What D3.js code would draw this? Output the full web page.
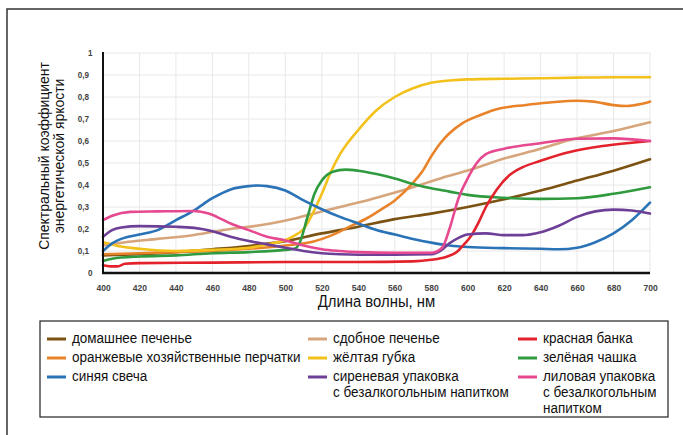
<!DOCTYPE html>
<html>
<head>
<meta charset="utf-8">
<script src="https://cdn.jsdelivr.net/npm/d3@7"></script>
<style>
  html, body { margin: 0; padding: 0; background: #fff; }
  svg { display: block; }
  text { font-family: "Liberation Sans", Arial, sans-serif; }
</style>
</head>
<body>
<svg id="chart" width="683" height="435"></svg>
<script>
// Spectral radiance factor samples: [wavelength nm, value]
const homeCookies = [[400,0.08],[420,0.085],[440,0.095],[460,0.108],[480,0.123],[500,0.145],[520,0.18],[540,0.21],[560,0.245],[580,0.27],[600,0.3],[620,0.335],[640,0.375],[660,0.42],[680,0.465],[700,0.517]];
const butterCookies = [[400,0.125],[414,0.142],[430,0.155],[450,0.173],[470,0.2],[487,0.218],[505,0.248],[520,0.28],[540,0.32],[552,0.347],[570,0.39],[585,0.43],[601,0.468],[620,0.52],[640,0.565],[656,0.605],[680,0.645],[700,0.685]];
const redCan = [[400,0.035],[404,0.03],[408,0.03],[412,0.042],[420,0.045],[460,0.047],[500,0.05],[540,0.05],[570,0.053],[580,0.06],[588,0.073],[594,0.095],[598,0.13],[602,0.17],[606,0.23],[610,0.3],[616,0.38],[623,0.445],[630,0.48],[640,0.51],[656,0.55],[674,0.577],[690,0.592],[700,0.6]];
const orangeGloves = [[400,0.085],[420,0.09],[440,0.095],[460,0.1],[480,0.11],[500,0.125],[515,0.142],[525,0.17],[535,0.21],[545,0.25],[552,0.286],[560,0.33],[570,0.41],[575,0.46],[580,0.53],[585,0.59],[590,0.635],[597,0.68],[607,0.718],[614,0.74],[632,0.764],[645,0.775],[660,0.783],[669,0.779],[680,0.763],[687,0.759],[695,0.768],[700,0.779]];
const yellowSponge = [[400,0.14],[405,0.13],[410,0.12],[420,0.11],[440,0.1],[460,0.105],[480,0.115],[490,0.13],[500,0.15],[505,0.17],[510,0.2],[515,0.27],[520,0.36],[525,0.46],[530,0.54],[540,0.65],[550,0.74],[560,0.8],[570,0.84],[580,0.865],[590,0.875],[600,0.88],[620,0.883],[640,0.885],[660,0.888],[680,0.89],[700,0.89]];
const greenCup = [[400,0.055],[405,0.065],[420,0.075],[440,0.08],[460,0.09],[480,0.095],[500,0.105],[505,0.11],[508,0.14],[512,0.25],[516,0.36],[520,0.42],[526,0.46],[533,0.47],[540,0.465],[550,0.45],[560,0.43],[570,0.405],[580,0.385],[590,0.37],[600,0.355],[620,0.342],[640,0.337],[660,0.34],[680,0.36],[700,0.39]];
const blueCandle = [[400,0.1],[405,0.135],[410,0.155],[420,0.175],[430,0.195],[440,0.24],[450,0.285],[460,0.34],[470,0.38],[480,0.395],[485,0.398],[490,0.395],[500,0.375],[510,0.33],[520,0.29],[530,0.255],[540,0.225],[550,0.195],[560,0.175],[570,0.155],[580,0.138],[590,0.125],[600,0.118],[620,0.113],[640,0.11],[650,0.108],[660,0.115],[670,0.14],[680,0.18],[690,0.24],[700,0.32]];
const lilacPack = [[400,0.165],[405,0.195],[410,0.207],[420,0.213],[440,0.21],[450,0.205],[460,0.19],[470,0.165],[480,0.145],[490,0.13],[500,0.115],[510,0.1],[520,0.09],[530,0.085],[540,0.083],[560,0.083],[580,0.085],[585,0.1],[590,0.135],[595,0.16],[600,0.175],[610,0.18],[620,0.172],[630,0.172],[640,0.185],[650,0.215],[660,0.255],[670,0.28],[680,0.288],[690,0.284],[700,0.27]];
const pinkPack = [[400,0.24],[405,0.26],[415,0.278],[430,0.28],[450,0.282],[458,0.27],[465,0.245],[470,0.225],[480,0.195],[490,0.165],[500,0.148],[510,0.125],[520,0.108],[530,0.1],[540,0.095],[560,0.092],[580,0.092],[586,0.115],[590,0.2],[595,0.34],[600,0.43],[605,0.5],[610,0.54],[620,0.565],[640,0.59],[660,0.61],[680,0.612],[700,0.6]];

const xTicks = d3.range(400, 701, 20);
const yTicks = [0, 0.1, 0.2, 0.3, 0.4, 0.5, 0.6, 0.7, 0.8, 0.9, 1];

const series = [
  { name: "домашнее печенье", color: "#7b5212", data: homeCookies, col: 0, row: 0 },
  { name: "оранжевые хозяйственные перчатки", color: "#e8832a", data: orangeGloves, col: 0, row: 1 },
  { name: "синяя свеча", color: "#2a73b6", data: blueCandle, col: 0, row: 2 },
  { name: "сдобное печенье", color: "#d6a57c", data: butterCookies, col: 1, row: 0 },
  { name: "жёлтая губка", color: "#f3c11c", data: yellowSponge, col: 1, row: 1 },
  { name: ["сиреневая упаковка", "с безалкогольным напитком"], color: "#6e3f97", data: lilacPack, col: 1, row: 2 },
  { name: "красная банка", color: "#e3222b", data: redCan, col: 2, row: 0 },
  { name: "зелёная чашка", color: "#2f9a3e", data: greenCup, col: 2, row: 1 },
  { name: ["лиловая упаковка", "с безалкогольным", "напитком"], color: "#e6498f", data: pinkPack, col: 2, row: 2 }
];
// drawing order (back to front)
const drawOrder = [3, 0, 1, 4, 7, 2, 6, 5, 8];

const svg = d3.select("#chart");
const plot = { left: 103, right: 650, top: 53, bottom: 273 };
const NARROW = 0.9;        // horizontal squeeze for titles and ticks
const LEGEND_NARROW = 0.87; // horizontal squeeze for legend labels

const x = d3.scaleLinear().domain([400, 700]).range([plot.left, plot.right]);
const y = d3.scaleLinear().domain([0, 1]).range([plot.bottom, plot.top]);
const fmt = v => String(v).replace(".", ",");

// outer frame
svg.append("rect").attr("x", 7).attr("y", 9).attr("width", 700).attr("height", 500)
  .attr("fill", "none").attr("stroke", "#333").attr("stroke-width", 1.5);

// grid
svg.append("g").selectAll("line").data(xTicks.slice(1)).join("line")
  .attr("x1", d => x(d)).attr("x2", d => x(d)).attr("y1", plot.top).attr("y2", plot.bottom)
  .attr("stroke", "#e8e8e8").attr("stroke-width", 1);
svg.append("g").selectAll("line").data(yTicks.slice(1)).join("line")
  .attr("x1", plot.left).attr("x2", plot.right).attr("y1", d => y(d)).attr("y2", d => y(d))
  .attr("stroke", "#e8e8e8").attr("stroke-width", 1);

// curves
const line = d3.line().x(d => x(d[0])).y(d => y(d[1])).curve(d3.curveMonotoneX);
svg.append("g").selectAll("path").data(drawOrder.map(i => series[i])).join("path")
  .attr("d", d => line(d.data))
  .attr("fill", "none").attr("stroke", d => d.color).attr("stroke-width", 2.6)
  .attr("stroke-linejoin", "round").attr("stroke-linecap", "round");

// axes
const xAxis = svg.append("g").attr("transform", `translate(0,${plot.bottom})`)
  .call(d3.axisBottom(x).tickValues(xTicks).tickSize(0).tickPadding(11));
xAxis.select(".domain").remove();
xAxis.selectAll("text").attr("font-size", 9.5).attr("font-weight", "bold").attr("fill", "#444")
  .attr("transform", `scale(${NARROW},1)`);

const yAxis = svg.append("g").attr("transform", `translate(${plot.left},0)`)
  .call(d3.axisLeft(y).tickValues(yTicks).tickFormat(fmt).tickSize(0).tickPadding(14));
yAxis.select(".domain").remove();
yAxis.selectAll("text").attr("font-size", 9).attr("font-weight", "bold").attr("fill", "#444")
  .attr("dx", d => (d === 0 || d === 1) ? 4 : 0)
  .attr("transform", `scale(${NARROW},1)`)
  .attr("x", -14 / NARROW);

svg.append("line").attr("x1", plot.left).attr("x2", plot.left).attr("y1", plot.top - 1).attr("y2", plot.bottom)
  .attr("stroke", "#111").attr("stroke-width", 2);
svg.append("line").attr("x1", plot.left - 1).attr("x2", plot.right).attr("y1", plot.bottom).attr("y2", plot.bottom)
  .attr("stroke", "#111").attr("stroke-width", 2.5);

// axis titles
svg.append("g").attr("transform", `translate(${(plot.left + plot.right) / 2},307)`)
  .append("text").attr("transform", `scale(${NARROW},1)`)
  .attr("text-anchor", "middle").attr("font-size", 16.5).attr("fill", "#111").text("Длина волны, нм");
const yTitle = svg.append("g").attr("transform", "translate(49,156) rotate(-90)")
  .append("text").attr("transform", `scale(${NARROW},1)`)
  .attr("font-size", 15.5).attr("fill", "#111").attr("text-anchor", "middle");
yTitle.append("tspan").attr("x", 0).attr("y", 0).text("Спектральный коэффициент");
yTitle.append("tspan").attr("x", 0).attr("y", 15.5).text("энергетической яркости");

// legend
const legend = svg.append("g");
legend.append("rect").attr("x", 40).attr("y", 321).attr("width", 628).attr("height", 96)
  .attr("fill", "#fff").attr("stroke", "#222").attr("stroke-width", 1.2);
const colX = [47, 308, 518];
const rowY = [339, 358, 377];
const items = legend.selectAll("g.item").data(series).join("g").attr("class", "item")
  .attr("transform", d => `translate(${colX[d.col]},${rowY[d.row]})`);
items.append("line").attr("x1", 0).attr("x2", 19).attr("y1", 0).attr("y2", 0)
  .attr("stroke", d => d.color).attr("stroke-width", 3);
items.append("g").attr("transform", "translate(25,4)")
  .append("text").attr("transform", `scale(${LEGEND_NARROW},1)`)
  .attr("font-size", 15.5).attr("fill", "#111")
  .each(function(d) {
    const lines = Array.isArray(d.name) ? d.name : [d.name];
    d3.select(this).selectAll("tspan").data(lines).join("tspan")
      .attr("x", 0).attr("y", (t, i) => i * 16).text(t => t);
  });
</script>
</body>
</html>
